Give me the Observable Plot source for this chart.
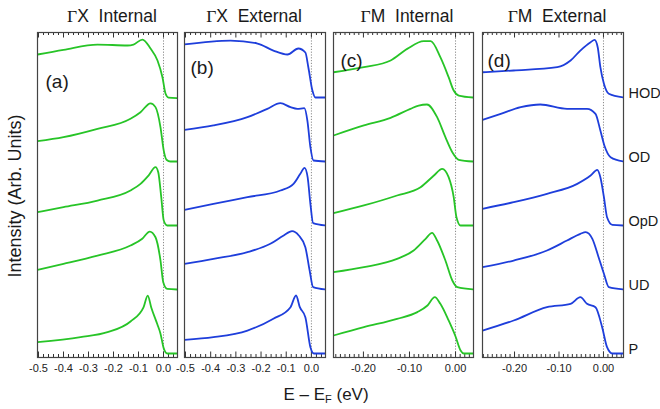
<!DOCTYPE html>
<html><head><meta charset="utf-8">
<script src="https://cdn.jsdelivr.net/npm/d3@7"></script>
<script src="https://cdn.jsdelivr.net/npm/@observablehq/plot@0.6"></script>
<style>
body{margin:0;background:#fff;}
#chart{position:relative;width:660px;height:409px;overflow:hidden;font-family:"Liberation Sans",Arial,sans-serif;color:#1a1a1a;}
.panel{position:absolute;top:30px;}
.panel svg{overflow:visible;}
.title{position:absolute;top:6px;font-size:17.5px;white-space:pre;transform:translateX(-50%);line-height:20px;}
.gam{font-family:"Liberation Serif","Times New Roman",serif;}
#ylab{position:absolute;left:15px;top:196px;font-size:18px;white-space:nowrap;transform:translate(-50%,-50%) rotate(-90deg);}
#xlab{position:absolute;left:326px;top:395px;font-size:17px;white-space:nowrap;transform:translate(-50%,-50%);}
#xlab sub{font-size:11px;vertical-align:-3px;line-height:0;}
</style></head>
<body><div id="chart"></div>
<script>
// ---- data ----
const samples = ["P", "UD", "OpD", "OD", "HOD"];            // stacked bottom -> top
const panelTitles = [["Γ", "X  Internal"], ["Γ", "X  External"], ["Γ", "M  Internal"], ["Γ", "M  External"]];
const panelLetters = ["(a)", "(b)", "(c)", "(d)"];
const ticksGX = [-0.5, -0.4, -0.3, -0.2, -0.1, 0.0];
const ticksGM = [-0.2, -0.1, 0.0];

// energy (eV), intensity above each curve's own baseline (curve spacing = 1)
const gxInternal = {
  HOD: [[-0.504,0.672],[-0.4,0.745],[-0.264,0.828],[-0.144,0.813],[-0.12,0.828],[-0.084,0.906],[-0.052,0.766],[-0.024,0.578],[-0.004,0.313],[0.008,0.063],[0.02,0],[0.056,-0.01]],
  OD:  [[-0.504,0.317],[-0.4,0.38],[-0.264,0.51],[-0.132,0.667],[-0.092,0.77],[-0.052,0.91],[-0.032,0.85],[-0.012,0.535],[0.001,0.17],[0.012,0.027],[0.028,0],[0.056,0]],
  OpD: [[-0.504,0.208],[-0.4,0.286],[-0.264,0.39],[-0.132,0.547],[-0.092,0.65],[-0.06,0.78],[-0.032,0.911],[-0.021,0.833],[-0.009,0.443],[0.001,0.078],[0.015,0],[0.056,0]],
  UD:  [[-0.504,0.308],[-0.4,0.401],[-0.264,0.531],[-0.132,0.687],[-0.085,0.792],[-0.055,0.906],[-0.032,0.817],[-0.012,0.453],[-0.001,0.114],[0.015,0.01],[0.056,0]],
  P:   [[-0.504,0.177],[-0.332,0.255],[-0.224,0.333],[-0.132,0.5],[-0.08,0.72],[-0.063,0.905],[-0.049,0.72],[-0.025,0.46],[-0.012,0.31],[0.001,0.08],[0.015,0],[0.056,0]]
};
const gxExternal = {
  HOD: [[-0.504,0.83],[-0.321,0.89],[-0.214,0.844],[-0.151,0.734],[-0.095,0.672],[-0.052,0.766],[-0.024,0.703],[-0.012,0.469],[0.004,0.109],[0.016,0],[0.056,0]],
  OD:  [[-0.504,0.495],[-0.389,0.563],[-0.254,0.693],[-0.175,0.823],[-0.123,0.911],[-0.083,0.849],[-0.056,0.823],[-0.028,0.833],[-0.016,0.64],[-0.004,0.224],[0.008,0.016],[0.056,0]],
  OpD: [[-0.504,0.245],[-0.389,0.339],[-0.254,0.443],[-0.123,0.547],[-0.071,0.651],[-0.044,0.808],[-0.027,0.901],[-0.015,0.755],[-0.004,0.339],[0.007,0.036],[0.056,0]],
  UD:  [[-0.504,0.401],[-0.389,0.479],[-0.254,0.583],[-0.163,0.714],[-0.11,0.844],[-0.077,0.911],[-0.05,0.844],[-0.024,0.661],[-0.007,0.297],[0.007,0.036],[0.056,0]],
  P:   [[-0.504,0.214],[-0.389,0.255],[-0.254,0.359],[-0.151,0.542],[-0.083,0.724],[-0.061,0.906],[-0.046,0.724],[-0.024,0.568],[-0.004,0.099],[0.01,0],[0.056,0]]
};
const gmInternal = {
  HOD: [[-0.265,0.395],[-0.199,0.474],[-0.141,0.578],[-0.105,0.76],[-0.069,0.88],[-0.054,0.88],[-0.033,0.63],[-0.015,0.318],[-0.004,0.109],[0.007,0.031],[0.039,0]],
  OD:  [[-0.265,0.406],[-0.199,0.563],[-0.141,0.683],[-0.098,0.823],[-0.08,0.875],[-0.062,0.891],[-0.04,0.693],[-0.022,0.38],[-0.007,0.145],[0.007,0.027],[0.039,0]],
  OpD: [[-0.265,0.192],[-0.199,0.313],[-0.127,0.469],[-0.076,0.599],[-0.047,0.781],[-0.029,0.886],[-0.015,0.755],[-0.004,0.443],[0.002,0.13],[0.011,0],[0.039,0]],
  UD:  [[-0.265,0.27],[-0.199,0.349],[-0.127,0.479],[-0.091,0.609],[-0.065,0.792],[-0.051,0.886],[-0.04,0.766],[-0.022,0.453],[-0.007,0.141],[0.004,0.036],[0.039,0]],
  P:   [[-0.265,0.281],[-0.199,0.411],[-0.127,0.542],[-0.083,0.646],[-0.061,0.75],[-0.045,0.88],[-0.033,0.776],[-0.015,0.516],[0.0,0.266],[0.011,0.047],[0.018,0],[0.039,0]]
};
const gmExternal = {
  HOD: [[-0.272,0.395],[-0.202,0.422],[-0.104,0.474],[-0.074,0.578],[-0.052,0.734],[-0.029,0.864],[-0.02,0.9],[-0.013,0.786],[-0.007,0.474],[0.001,0.214],[0.012,0.058],[0.045,0]],
  OD:  [[-0.272,0.652],[-0.231,0.745],[-0.186,0.849],[-0.142,0.891],[-0.082,0.823],[-0.037,0.823],[-0.018,0.745],[-0.007,0.484],[0.002,0.25],[0.016,0.068],[0.045,0]],
  OpD: [[-0.272,0.261],[-0.202,0.364],[-0.127,0.495],[-0.059,0.651],[-0.029,0.781],[-0.014,0.87],[-0.007,0.755],[0.001,0.443],[0.008,0.13],[0.02,0.01],[0.045,0]],
  UD:  [[-0.272,0.348],[-0.202,0.453],[-0.127,0.609],[-0.082,0.765],[-0.052,0.87],[-0.04,0.896],[-0.025,0.792],[-0.011,0.505],[0.001,0.245],[0.012,0.036],[0.045,0]],
  P:   [[-0.272,0.359],[-0.202,0.516],[-0.127,0.724],[-0.074,0.776],[-0.052,0.88],[-0.037,0.776],[-0.018,0.724],[-0.003,0.411],[0.008,0.099],[0.02,0],[0.045,0]]
};

// ---- layout / style ----
const GREEN = "#27c427", BLUE = "#1e3edb";
const Y_DOMAIN = [-0.0625, 5.016];   // 325 px tall frame
const PX_PER_UNIT = 325 / (Y_DOMAIN[1] - Y_DOMAIN[0]);
const panels = [
  {data: gxInternal, color: GREEN, left: 37, width: 140, domain: [-0.504, 0.056], ticks: ticksGX, fmt: d => d.toFixed(1), minor: d3.range(-25, 3).map(i => +(i * 0.02).toFixed(2)), letter: [8, 42], center: 112},
  {data: gxExternal, color: BLUE, left: 184, width: 141, domain: [-0.504, 0.056], ticks: ticksGX, fmt: d => d.toFixed(1), minor: d3.range(-25, 3).map(i => +(i * 0.02).toFixed(2)), letter: [6, 28], center: 254},
  {data: gmInternal, color: GREEN, left: 333, width: 140, domain: [-0.265, 0.039], ticks: ticksGM, fmt: d => d.toFixed(2), minor: d3.range(-26, 4).map(i => +(i * 0.01).toFixed(2)), letter: [7, 21], center: 407},
  {data: gmExternal, color: BLUE, left: 482, width: 141, domain: [-0.272, 0.045], ticks: ticksGM, fmt: d => d.toFixed(2), minor: d3.range(-27, 5).map(i => +(i * 0.01).toFixed(2)), letter: [5, 21], center: 557, labels: true}
];

const chart = document.getElementById("chart");
const ML = 10, MR = 10, MT = 2, MB = 27;

panels.forEach((p, i) => {
  const rows = [];
  samples.forEach((name, k) => p.data[name].forEach(([e, v]) => rows.push({e, y: k + v, name})));
  const isMajor = t => p.ticks.some(m => Math.abs(m - t) < 1e-6);
  const lenMinor = 3 / PX_PER_UNIT, lenMajor = 5.5 / PX_PER_UNIT;
  const tickLen = t => isMajor(t) ? lenMajor : lenMinor;
  const [y0, y1] = Y_DOMAIN;
  const marks = [
    Plot.ruleX([0], {stroke: "#8a8a8a", strokeWidth: 1, strokeDasharray: "1.2,1.6"}),
    Plot.ruleX(p.minor, {x: d => d, y1: y0, y2: d => y0 + tickLen(d), stroke: "#333", strokeWidth: 1}),
    Plot.ruleX(p.minor, {x: d => d, y1: y1, y2: d => y1 - tickLen(d), stroke: "#333", strokeWidth: 1}),
    Plot.line(rows, {x: "e", y: "y", z: "name", stroke: p.color, strokeWidth: 1.8, curve: "monotone-x", clip: true}),
    Plot.frame({stroke: "#444", strokeWidth: 1.2}),
    Plot.text([panelLetters[i]], {frameAnchor: "top-left", dx: p.letter[0], dy: p.letter[1], textAnchor: "start", fontSize: 19, fill: "#1a1a1a"})
  ];
  if (p.labels) {
    marks.push(Plot.text(samples, {x: () => p.domain[1], y: (d, k) => k + 0.06, text: d => d, dx: 5, textAnchor: "start", fontSize: 14.5, fill: "#1a1a1a"}));
  }
  const svg = Plot.plot({
    width: p.width + ML + MR, height: 325 + MT + MB,
    marginLeft: ML, marginRight: MR, marginTop: MT, marginBottom: MB,
    style: {fontFamily: '"Liberation Sans Narrow","Liberation Sans",Arial,sans-serif', fontSize: "11px", color: "#222", background: "transparent", overflow: "visible"},
    x: {domain: p.domain, ticks: p.ticks, tickFormat: p.fmt, tickSize: 0, tickPadding: 7, label: null},
    y: {domain: Y_DOMAIN, axis: null},
    marks
  });
  const div = document.createElement("div");
  div.className = "panel";
  div.style.left = (p.left - ML) + "px";
  div.appendChild(svg);
  chart.appendChild(div);

  const t = document.createElement("div");
  t.className = "title";
  t.style.left = p.center + "px";
  t.innerHTML = `<span class="gam">${panelTitles[i][0]}</span>${panelTitles[i][1]}`;
  chart.appendChild(t);
});

const yl = document.createElement("div");
yl.id = "ylab"; yl.textContent = "Intensity (Arb. Units)";
chart.appendChild(yl);
const xl = document.createElement("div");
xl.id = "xlab"; xl.innerHTML = "E – E<sub>F</sub> (eV)";
chart.appendChild(xl);
</script>
</body></html>
